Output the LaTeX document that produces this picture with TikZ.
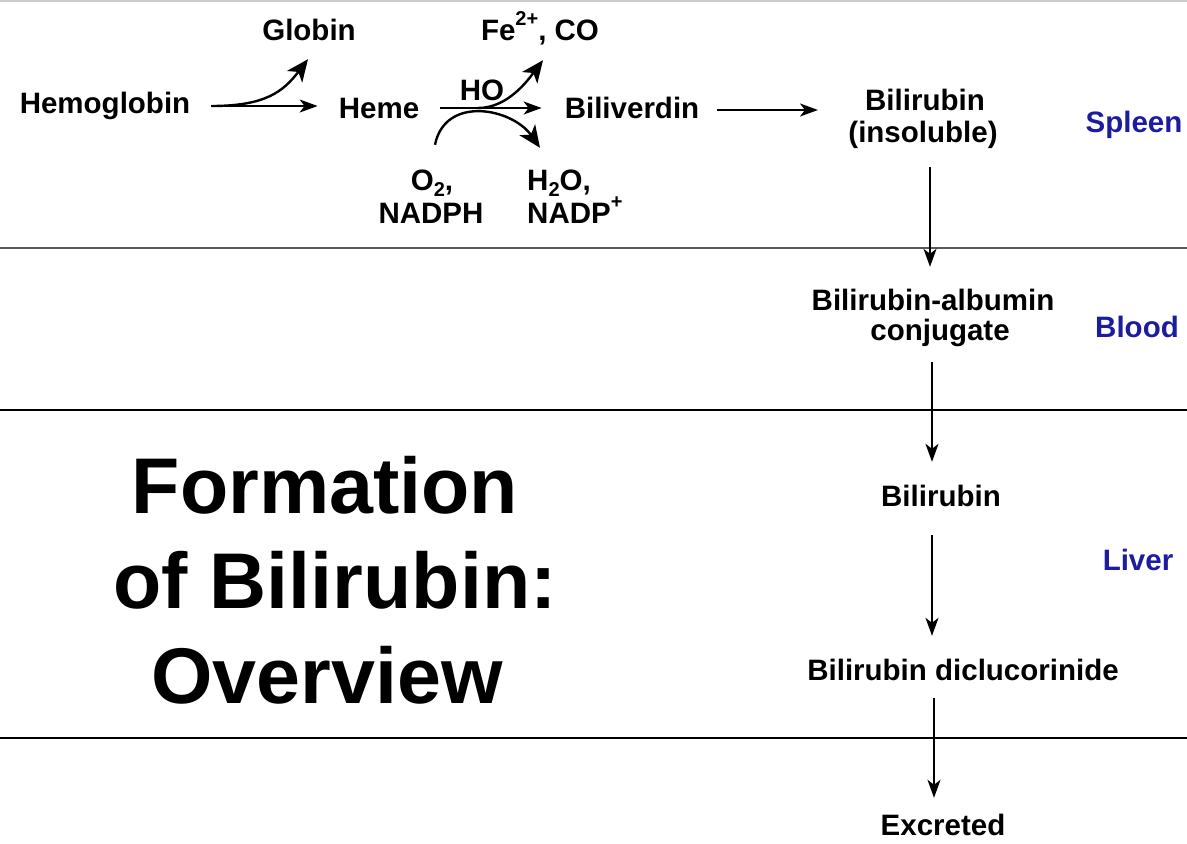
\documentclass[tikz,border=0pt]{standalone}
\usepackage{fontspec}
\setmainfont{Liberation Sans}
\usetikzlibrary{arrows.meta,calc}
\definecolor{regblue}{RGB}{28,28,160}
\newcommand{\mysub}[1]{\raisebox{-0.22em}{\fontsize{20}{20}\selectfont #1}}
\newcommand{\mysup}[1]{\raisebox{0.5em}{\fontsize{20}{20}\selectfont #1}}
\begin{document}
\begin{tikzpicture}[x=1pt,y=-1pt,
  lbl/.style={font=\bfseries\fontsize{29.5}{34}\selectfont, inner sep=0pt, anchor=base, text height=21pt, text depth=6pt},
  region/.style={lbl, text=regblue},
  bigtitle/.style={font=\bfseries\fontsize{79}{95}\selectfont, inner sep=0pt, anchor=base},
  arr/.style={line width=1.8pt, -{Stealth[length=18pt,width=13pt,inset=5pt]}},
  carr/.style={line width=2.4pt, -{Stealth[length=22pt,width=19pt,inset=6pt]}},
  sepline/.style={line width=1.6pt}]
\useasboundingbox (0,0) rectangle (1187,844);
\fill[white] (0,0) rectangle (1187,844);
% separator lines
\draw[gray!40, line width=1.5pt] (0,1) -- (1187,1);
\draw[sepline, black!65] (0,248) -- (1187,248);
\draw[sepline] (0,410) -- (1187,410);
\draw[sepline] (0,738) -- (1187,738);
% nodes
\node[lbl] (hemo) at (105,113) {Hemoglobin};
\node[lbl] (globin) at (309,40) {Globin};
\node[lbl] (heme) at (379,118) {Heme};
\node[lbl] (fe) at (540,40) {Fe\mysup{2+}, CO};
\node[lbl] (ho) at (482,100) {HO};
\node[lbl] (bv) at (632,118) {Biliverdin};
\node[lbl] (o2) at (432,190) {O\mysub{2},};
\node[lbl] (nadph) at (431,223) {NADPH};
\node[lbl, anchor=base west] (h2o) at (527,190) {H\mysub{2}O,};
\node[lbl, anchor=base west] (nadp) at (527,223) {NADP\mysup{+}};
\node[lbl] (ins1) at (925,110) {Bilirubin};
\node[lbl] (ins2) at (923,142) {(insoluble)};
\node[region] (spleen) at (1134,132) {Spleen};
\node[lbl] (conj1) at (933,310) {Bilirubin-albumin};
\node[lbl] (conj2) at (940,340) {conjugate};
\node[region] (blood) at (1137,337) {Blood};
\node[lbl] (bil) at (941,506) {Bilirubin};
\node[region] (liver) at (1138,570) {Liver};
\node[lbl] (dicl) at (963,680) {Bilirubin diclucorinide};
\node[lbl] (excr) at (943,835) {Excreted};
\node[bigtitle] (t1) at (325,513) {Formation};
\node[bigtitle] (t2) at (335,608) {of Bilirubin:};
\node[bigtitle] (t3) at (327,703) {Overview};
% top row arrows
\draw[arr, shorten <=21pt, shorten >=21pt] ([yshift=7pt]hemo.base east) -- ([yshift=7pt]hemo.base east -| heme.west);
\draw[carr] ([xshift=21pt,yshift=7pt]hemo.base east) .. controls (265,106) and (283,92) .. ([xshift=-1pt,yshift=-13pt]globin.south);
\draw[arr, shorten <=21pt, shorten >=23pt] ([yshift=10pt]heme.base east) -- ([yshift=10pt]heme.base east -| bv.west);
\draw[carr] ([xshift=3pt,yshift=24pt]o2.north) .. controls (445,95) and (512,108) .. ([xshift=13pt,yshift=21pt]h2o.north west);
\coordinate (split) at (478,108);
\draw[carr] (split) .. controls (508,108) and (528,80) .. ([xshift=3pt,yshift=-14pt]fe.south);
\draw[arr, shorten <=18pt, shorten >=47pt] ([yshift=8pt]bv.base east) -- ([yshift=8pt]bv.base east -| ins1.west);
% vertical chain
\coordinate (ax1) at (930,0);
\coordinate (ax2) at (932,0);
\coordinate (ax3) at (932,0);
\coordinate (ax4) at (934,0);
\draw[arr, shorten <=19pt, shorten >=22pt] (ins2.south -| ax1) -- (conj1.north -| ax1);
\draw[arr, shorten <=16pt, shorten >=23pt] (conj2.south -| ax2) -- (bil.north -| ax2);
\draw[arr, shorten <=23pt, shorten >=23pt] (bil.south -| ax3) -- (dicl.north -| ax3);
\draw[arr, shorten <=12pt, shorten >=16pt] (dicl.south -| ax4) -- (excr.north -| ax4);
\end{tikzpicture}
\end{document}
